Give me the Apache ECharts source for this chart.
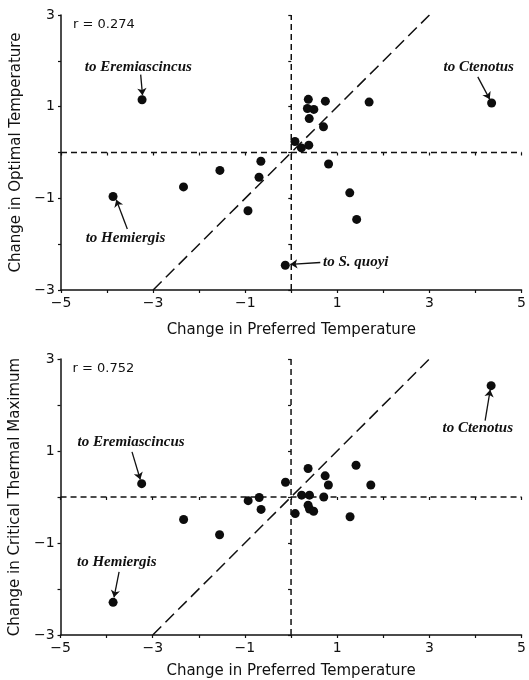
<!DOCTYPE html>
<html>
<head>
<meta charset="utf-8">
<script src="https://cdn.jsdelivr.net/npm/echarts@6/dist/echarts.min.js"></script>
<style>
html,body{margin:0;padding:0;background:#fff;}
#chart{width:529px;height:680px;}
</style>
</head>
<body>
<div id="chart"></div>
<script>
// ---- data ----
const xTickValues = [-5, -3, -1, 1, 3, 5];
const yTickValues = [-3, -1, 1, 3];
const xTitle = 'Change in Preferred Temperature';
const topYTitle = 'Change in Optimal Temperature';
const botYTitle = 'Change in Critical Thermal Maximum';

const topX = [-3.24, 4.35, -3.87, -0.13, 0.37, 0.74, 1.69, 0.35, 0.49, 0.39, 0.70, 0.08, 0.22, 0.38, 0.81, -0.66, -1.55, -0.70, -2.34, -0.94, 1.27, 1.42];
const topY = [1.15, 1.08, -0.96, -2.46, 1.16, 1.12, 1.10, 0.96, 0.94, 0.74, 0.56, 0.24, 0.10, 0.16, -0.25, -0.19, -0.39, -0.54, -0.75, -1.27, -0.88, -1.46];

const botX = [-3.24, 4.34, -3.86, 0.37, 1.41, 0.74, 0.81, 1.73, -0.12, 0.23, 0.40, 0.71, -0.69, -0.93, -0.65, 0.37, 0.40, 0.49, 0.09, 1.28, -2.33, -1.55];
const botY = [0.29, 2.42, -2.29, 0.62, 0.69, 0.46, 0.26, 0.26, 0.32, 0.04, 0.04, 0.00, -0.01, -0.08, -0.27, -0.18, -0.26, -0.31, -0.36, -0.43, -0.49, -0.82];

const topR = 'r = 0.274';
const botR = 'r = 0.752';
const rPos = [-4.74, 2.78];

const topNotes = ['to Eremiascincus', 'to Ctenotus', 'to Hemiergis', 'to S. quoyi'];
const topNoteX = [-3.32, 4.07, -3.60, 1.40];
const topNoteY = [1.86, 1.86, -1.86, -2.40];
const topArrowFrom = [[-3.27, 1.70], [4.05, 1.65], [-3.56, -1.67], [0.63, -2.40]];
const topArrowTo = [[-3.23, 1.25], [4.31, 1.16], [-3.80, -1.03], [-0.02, -2.44]];

const botNotes = ['to Eremiascincus', 'to Ctenotus', 'to Hemiergis'];
const botNoteX = [-3.47, 4.05, -3.78];
const botNoteY = [1.19, 1.50, -1.41];
const botArrowFrom = [[-3.45, 0.98], [4.21, 1.66], [-3.73, -1.63]];
const botArrowTo = [[-3.27, 0.38], [4.32, 2.33], [-3.84, -2.18]];

const diagLine = [[-3, -3], [3, 3]];
const vLine = [[0, -3], [0, 3]];
const hLine = [[-5, 0], [5, 0]];

// ---- chart ----
const INK = '#111';
const SANS = 'DejaVu Sans';
const SERIF = 'Liberation Serif';
const zip = (a, b) => a.map((v, i) => [v, b[i]]);
const fmtFor = list => v => list.includes(Math.round(v)) ? (v < 0 ? '\u2212' + Math.abs(v) : String(v)) : '';

function xAxes(grid, gap) {
  return [
    {
      type: 'value', gridIndex: grid, min: -5, max: 5, interval: 1,
      name: xTitle, nameLocation: 'middle', nameGap: gap,
      nameTextStyle: { fontFamily: SANS, fontSize: 15, color: INK },
      axisLine: { show: true, onZero: false, lineStyle: { color: INK, width: 1.5 } },
      axisTick: { show: true, length: 3, lineStyle: { color: INK, width: 1.2 } },
      axisLabel: { margin: 6, fontFamily: SANS, fontSize: 14, color: INK, showMinLabel: true, showMaxLabel: true, formatter: fmtFor(xTickValues) },
      splitLine: { show: false }
    },
    {
      type: 'value', gridIndex: grid, min: -5, max: 5, interval: 1,
      axisLine: { show: false },
      axisTick: { show: true, inside: true, length: 3, lineStyle: { color: INK, width: 1.2 } },
      axisLabel: { show: false }, splitLine: { show: false }
    }
  ];
}
function yAxes(grid, title) {
  return [
    {
      type: 'value', gridIndex: grid, min: -3, max: 3, interval: 1,
      name: title, nameLocation: 'middle', nameGap: 31,
      nameTextStyle: { fontFamily: SANS, fontSize: 15, color: INK },
      axisLine: { show: true, onZero: false, lineStyle: { color: INK, width: 1.5 } },
      axisTick: { show: true, length: 3, lineStyle: { color: INK, width: 1.2 } },
      axisLabel: { margin: 6, fontFamily: SANS, fontSize: 14, color: INK, showMinLabel: true, showMaxLabel: true, formatter: fmtFor(yTickValues) },
      splitLine: { show: false }
    },
    {
      type: 'value', gridIndex: grid, min: -3, max: 3, interval: 1,
      axisLine: { show: false },
      axisTick: { show: true, inside: true, length: 3, lineStyle: { color: INK, width: 1.2 } },
      axisLabel: { show: false }, splitLine: { show: false }
    }
  ];
}

function panelSeries(axisIdx, xs, ys, notes, nx, ny, afrom, ato, rText) {
  const ax = { xAxisIndex: axisIdx, yAxisIndex: axisIdx };
  const refLine = (data, dash, w) => Object.assign({
    type: 'line', data: data, symbol: 'none', silent: true, z: 1,
    lineStyle: { color: INK, width: w, type: dash, opacity: 1 }
  }, ax);
  return [
    refLine(diagLine, [12, 6], 1.5),
    refLine(vLine, [6, 4], 1.5),
    refLine(hLine, [6, 4], 1.5),
    Object.assign({
      type: 'scatter', data: zip(xs, ys), symbol: 'circle', symbolSize: 9, z: 3,
      itemStyle: { color: '#0d0d0d', opacity: 1 }
    }, ax),
    Object.assign({
      type: 'lines', coordinateSystem: 'cartesian2d', z: 4,
      symbol: ['none', 'arrow'], symbolSize: 7,
      lineStyle: { color: INK, width: 1.3, opacity: 1 },
      data: afrom.map((f, i) => ({ coords: [f, ato[i]] }))
    }, ax),
    Object.assign({
      type: 'scatter', symbolSize: 0, z: 5, silent: true,
      itemStyle: { color: INK, opacity: 1 },
      data: notes.map((n, i) => [nx[i], ny[i], n]),
      label: {
        show: true, position: 'inside', formatter: p => p.data[2], opacity: 1,
        fontFamily: SERIF, fontStyle: 'italic', fontWeight: 'bold', fontSize: 15, color: '#111'
      }
    }, ax),
    Object.assign({
      type: 'scatter', symbolSize: 0, z: 5, silent: true,
      itemStyle: { color: INK, opacity: 1 },
      data: [[rPos[0], rPos[1], rText]],
      label: {
        show: true, position: 'right', distance: 0, formatter: p => p.data[2], opacity: 1,
        fontFamily: SANS, fontSize: 13, color: INK
      }
    }, ax)
  ];
}

const chart = echarts.init(document.getElementById('chart'), null, { renderer: 'canvas' });
chart.setOption({
  animation: false,
  backgroundColor: '#fff',
  grid: [
    { left: 61, top: 15, width: 464, height: 275 },
    { left: 59, top: 359, width: 465, height: 276 }
  ],
  xAxis: xAxes(0, 33).concat(xAxes(1, 29)),
  yAxis: yAxes(0, topYTitle).concat(yAxes(1, botYTitle)),
  series: panelSeries(0, topX, topY, topNotes, topNoteX, topNoteY, topArrowFrom, topArrowTo, topR)
    .concat(panelSeries(2, botX, botY, botNotes, botNoteX, botNoteY, botArrowFrom, botArrowTo, botR))
});
</script>
</body>
</html>
